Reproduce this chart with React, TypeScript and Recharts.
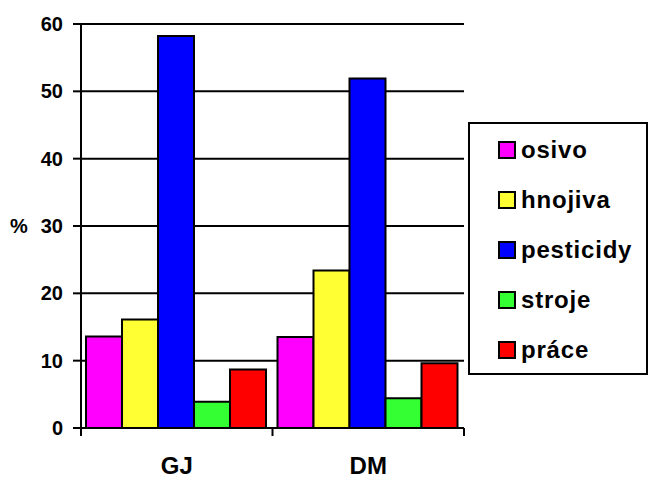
import React from 'react';
import {
  BarChart,
  Bar,
  XAxis,
  YAxis,
  CartesianGrid,
} from 'recharts';

const categories = ['GJ', 'DM'];
const osivo = [13.6, 13.5];
const hnojiva = [16.1, 23.4];
const pesticidy = [58.2, 51.9];
const stroje = [3.9, 4.4];
const prace = [8.7, 9.6];
const yTicks = [0, 10, 20, 30, 40, 50, 60];

const seriesNames = ['osivo', 'hnojiva', 'pesticidy', 'stroje', 'práce'];
const seriesColors = ['#ff00ff', '#ffff33', '#0000ff', '#33ff33', '#ff0000'];
const seriesValues = [osivo, hnojiva, pesticidy, stroje, prace];

const data = categories.map((cat, i) => {
  const row: Record<string, string | number> = { name: cat };
  seriesNames.forEach((s, j) => {
    row[s] = seriesValues[j][i];
  });
  return row;
});

const font = 'Arial, "Liberation Sans", Helvetica, sans-serif';

const CategoryTick = (props: any) => {
  const { x, y, payload, width, visibleTicksCount, index } = props;
  const half = width / (visibleTicksCount || categories.length) / 2;
  return (
    <g>
      <line x1={x - half} y1={y} x2={x - half} y2={y + 8} stroke="#000" strokeWidth={2} />
      {index === visibleTicksCount - 1 && (
        <line x1={x + half} y1={y} x2={x + half} y2={y + 8} stroke="#000" strokeWidth={2} />
      )}
      <text
        x={x}
        y={y + 46}
        textAnchor="middle"
        fontFamily={font}
        fontWeight="bold"
        fontSize={24}
        fill="#000"
      >
        {payload.value}
      </text>
    </g>
  );
};

// legend drawn as a plain box so it doesn't eat into the plot area
const LegendBox = () => (
  <div
    style={{
      position: 'absolute',
      left: 468,
      top: 122,
      border: '2px solid #000',
      background: '#fff',
      width: 180,
      height: 253,
      boxSizing: 'border-box',
      paddingTop: 1,
      paddingLeft: 28,
      fontFamily: font,
      fontWeight: 'bold',
      fontSize: 24,
      letterSpacing: 0.8,
    }}
  >
    {seriesNames.map((s, i) => (
      <div key={s} style={{ display: 'flex', alignItems: 'center', height: 50 }}>
        <span
          style={{
            display: 'inline-block',
            width: 14,
            height: 14,
            background: seriesColors[i],
            border: '2px solid #000',
            marginRight: 5,
          }}
        />
        <span>{s}</span>
      </div>
    ))}
  </div>
);

export default function App() {
  return (
    <div style={{ position: 'absolute', left: 0, top: 0, width: 650, height: 480, background: '#fff' }}>
      <BarChart
        width={650}
        height={480}
        data={data}
        margin={{ top: 24, right: 186, bottom: 12, left: 30 }}
        barCategoryGap={5}
        barGap={0}
      >
        <CartesianGrid vertical={false} stroke="#000" strokeWidth={2} />
        <XAxis
          dataKey="name"
          height={40}
          axisLine={{ stroke: '#000', strokeWidth: 2 }}
          tickLine={false}
          tickSize={0}
          tickMargin={0}
          tick={<CategoryTick />}
          interval={0}
        />
        <YAxis
          width={51}
          domain={[0, 60]}
          ticks={yTicks}
          interval={0}
          axisLine={{ stroke: '#000', strokeWidth: 2 }}
          tickLine={{ stroke: '#000', strokeWidth: 2 }}
          tickSize={8}
          tickMargin={10}
          tick={{ fill: '#000', fontFamily: font, fontWeight: 'bold', fontSize: 20 }}
          label={{
            value: '%',
            position: 'insideLeft',
            offset: -20,
            fill: '#000',
            fontFamily: font,
            fontWeight: 'bold',
            fontSize: 20,
          }}
        />
        {seriesNames.map((s, i) => (
          <Bar
            key={s}
            dataKey={s}
            fill={seriesColors[i]}
            stroke="#000"
            strokeWidth={2}
            isAnimationActive={false}
          />
        ))}
      </BarChart>
      <LegendBox />
    </div>
  );
}
